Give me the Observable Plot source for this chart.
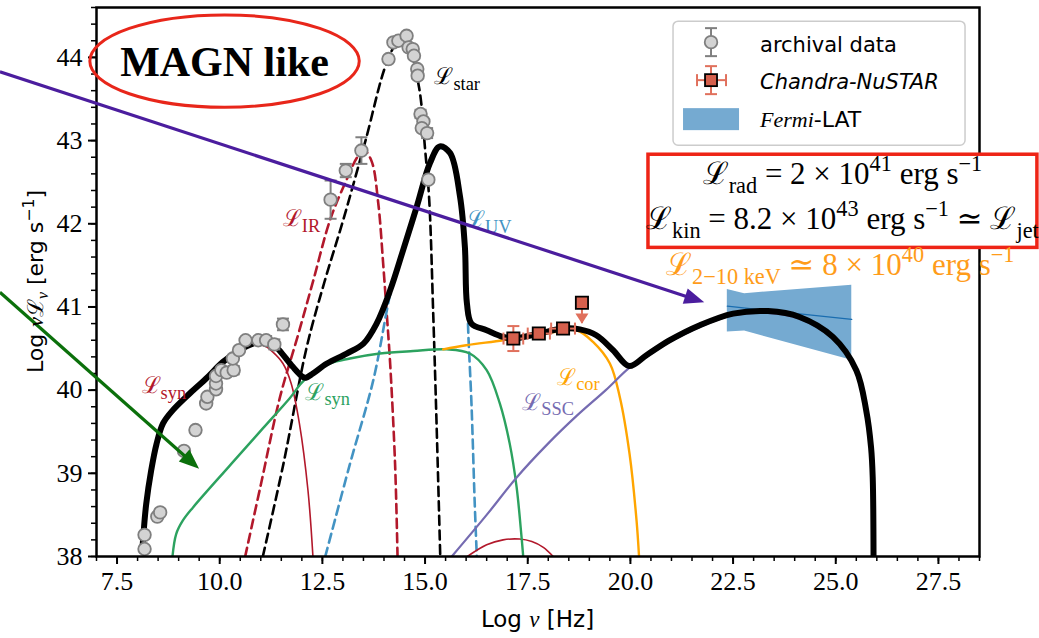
<!DOCTYPE html>
<html><head><meta charset="utf-8">
<script src="https://cdn.jsdelivr.net/npm/d3@7"></script>
<script src="https://cdn.jsdelivr.net/npm/@observablehq/plot@0.6"></script>
<style>
body{margin:0;background:#fff;}
#chart{width:1039px;height:638px;}
</style></head><body><div id="chart"></div>
<script>
// ---------------- data (log nu [Hz], log nuL_nu [erg/s]) ----------------
const xMajor = [7.5, 10, 12.5, 15, 17.5, 20, 22.5, 25, 27.5];
const xMinor = d3.range(7, 28.51, 0.5);
const yMajor = [38, 39, 40, 41, 42, 43, 44];
const yMinor = d3.range(38, 44.61, 0.2);

const archX = [8.17,8.17,8.48,8.55,9.13,9.41,9.67,9.70,9.91,9.91,9.91,10.04,10.17,10.34,10.32,10.47,10.63,10.94,11.13,11.33,11.54,12.70,13.07,13.45,14.11,14.23,14.35,14.55,14.60,14.70,14.73,14.81,14.82,14.89,14.96,14.92,15.05,15.08];
const archY = [38.09,38.26,38.48,38.53,39.27,39.52,39.84,39.92,40.01,40.08,40.17,40.24,40.21,40.24,40.38,40.48,40.60,40.60,40.60,40.55,40.79,42.29,42.64,42.88,43.98,44.18,44.20,44.26,44.12,44.10,44.02,43.86,43.78,43.32,43.23,43.15,43.09,42.53];
const archErr = [0,0,0,0,0,0,0,0,0,0,0,0,0,0.05,0,0,0,0,0.05,0.06,0.07,0.23,0.08,0.16,0,0,0,0,0,0,0,0,0,0.05,0,0,0.06,0];

const chX = [17.15, 17.77, 18.36];
const chY = [40.62, 40.68, 40.74];
const chXerr = [0.24, 0.27, 0.29];
const chYerr = [0.15, 0.05, 0.05];
const ulX = [18.82];
const ulY = [41.05];
const ulTip = [40.80];

const fermiX = [22.36, 22.78, 25.39];
const fermiHi = [41.21, 41.16, 41.26];
const fermiLo = [40.70, 40.71, 40.36];
const fermiLineX = [22.36, 25.39];
const fermiLineY = [41.01, 40.85];

const totalX = [8.12,8.15,8.21,8.33,8.46,8.62,8.86,9.27,9.67,10.08,10.48,10.81,11.1,11.3,11.45,11.78,12.02,12.1,12.27,12.61,13.09,13.5,13.82,14.15,14.47,14.8,15.12,15.36,15.61,15.85,15.97,16.02,16.13,16.5,16.9,17.15,17.77,18.36,18.77,19.17,19.58,19.97,20.39,20.96,21.69,22.5,23.35,24.12,24.93,25.5,25.74,25.86,25.9,25.92];
const totalY = [38.1,38.31,38.63,39.03,39.35,39.6,39.76,39.96,40.14,40.34,40.48,40.56,40.58,40.55,40.48,40.28,40.16,40.15,40.2,40.32,40.44,40.56,40.8,41.2,41.69,42.21,42.73,42.93,42.85,42.33,41.72,41.04,40.8,40.72,40.64,40.62,40.68,40.74,40.73,40.66,40.48,40.29,40.42,40.6,40.78,40.92,40.95,40.88,40.64,40.24,39.76,39.31,38.95,38.0];

const starX = [11.05,11.55,12.12,12.55,13.01,13.55,14.07,14.35,14.6,14.85,15.0,15.1,15.2,15.28,15.37];
const starY = [38.0,39.11,40.52,41.3,42.05,43.0,43.94,44.18,44.1,43.65,42.9,42.3,40.9,39.6,38.0];

const irX = [10.62,11.0,11.47,11.9,12.28,12.69,13.09,13.35,13.52,13.7,13.86,13.98,14.07,14.15,14.27,14.33];
const irY = [38.0,38.86,39.92,40.65,41.32,42.05,42.53,42.8,42.88,42.75,42.25,41.52,40.9,40.32,39.11,38.0];

const uvX = [12.57,13.17,13.74,14.07,14.15,14.47,14.8,15.12,15.36,15.61,15.85,15.97,16.03,16.06,16.13,16.21,16.26];
const uvY = [38.0,39.11,40.12,40.96,41.15,41.66,42.19,42.71,42.91,42.83,42.31,41.7,41.0,40.6,39.84,38.63,38.0];

const synRedX = [8.12,8.21,8.33,8.46,8.62,8.86,9.27,9.67,10.08,10.48,10.81,11.1,11.29,11.54,11.74,11.94,12.15,12.27];
const synRedY = [38.1,38.63,39.03,39.35,39.6,39.76,39.96,40.14,40.34,40.48,40.55,40.53,40.46,40.32,40.08,39.6,38.79,38.0];
const syn2X = [16.03,16.5,16.9,17.3,17.6,17.88,18.12];
const syn2Y = [38.0,38.14,38.2,38.21,38.18,38.11,38.0];

const synGreenX = [8.85,8.94,9.10,9.35,10.24,11.05,11.70,12.06,12.69,13.17,13.90,14.71,15.53,16.09,16.5,16.82,17.06,17.23,17.35,17.39];
const synGreenY = [38.0,38.27,38.43,38.59,39.09,39.54,39.9,40.12,40.32,40.38,40.44,40.47,40.49,40.44,40.24,39.84,39.36,38.83,38.23,38.0];

const corX = [15.44,16.0,16.9,17.5,18.2,18.69,19.09,19.5,19.74,19.98,20.15,20.21];
const corY = [40.49,40.54,40.6,40.65,40.7,40.72,40.58,40.32,39.92,39.23,38.43,38.0];

const sscX = [15.65,16.5,17.23,18.0,18.69,19.4,19.98,20.39,20.96,21.69,22.5,23.35,24.12,24.93,25.5,25.74,25.86,25.9,25.93];
const sscY = [38.0,38.5,38.95,39.36,39.69,40.0,40.27,40.4,40.58,40.76,40.9,40.93,40.86,40.62,40.22,39.74,39.29,38.93,38.0];

// curve labels
const labelSub = ["star", "IR", "UV", "syn", "syn", "cor", "SSC"];
const labelX = [15.24, 11.55, 16.01, 8.11, 12.10, 18.23, 17.38];
const labelY = [43.67, 41.97, 41.95, 39.96, 39.88, 40.06, 39.76];

// annotations (data units)
const magnCenter = [10.13, 43.95];
const magnRadius = [3.28, 0.555];
const boxX = [20.44, 29.91];
const boxY = [41.71, 42.83];
const boxLineY = [42.47, 41.93];
const orangeAt = [20.88, 41.38];
const legendAt = [21.05, 44.43];
const purpleArrow = [[4.66, 43.82], [21.81, 41.05]];
const greenArrow = [[4.66, 41.17], [9.51, 39.05]];

// ---------------- helpers ----------------
const pts = (xs, ys) => xs.map((x, i) => ({x, y: ys[i]}));
const curve = (xs, ys, opts) => Plot.line(pts(xs, ys), {x: "x", y: "y", curve: "catmull-rom", clip: true, ...opts});
const hCap = {draw(ctx, size) { const r = Math.sqrt(size / Math.PI); ctx.moveTo(-r, 0); ctx.lineTo(r, 0); }};
const vCap = {draw(ctx, size) { const r = Math.sqrt(size / Math.PI); ctx.moveTo(0, -r); ctx.lineTo(0, r); }};
const downTri = {draw(ctx, size) { const r = Math.sqrt(size / Math.PI); ctx.moveTo(-r, -r * 0.8); ctx.lineTo(r, -r * 0.8); ctx.lineTo(0, r * 0.8); ctx.closePath(); }};

const arch = archX.map((x, i) => ({x, y: archY[i], e: archErr[i]}));
const archE = arch.filter(d => d.e > 0);
const ch = chX.map((x, i) => ({x, y: chY[i], ex: chXerr[i], ey: chYerr[i]}));
const ul = ulX.map((x, i) => ({x, y: ulY[i], tip: ulTip[i]}));
const fermi = fermiX.map((x, i) => ({x, lo: fermiLo[i], hi: fermiHi[i]}));

const GRAY = "#7f7f7f", RED = "#d6604d", ERR = "#e0705c";
const SERIF = "'Liberation Serif', 'DejaVu Serif', serif";
const SANS = "'DejaVu Sans', sans-serif";

const plot = Plot.plot({
  width: 1039, height: 638,
  marginLeft: 96, marginRight: 60, marginTop: 7, marginBottom: 82,
  x: {domain: [7, 28.5]},
  y: {domain: [38, 44.6]},
  marks: [
    Plot.areaY(fermi, {x: "x", y1: "lo", y2: "hi", fill: "#75aad1"}),
    Plot.line(pts(fermiLineX, fermiLineY), {x: "x", y: "y", stroke: "#1a6db0", strokeWidth: 1.2}),
    curve(irX, irY, {stroke: "#b2182b", strokeWidth: 2.6, strokeDasharray: "9,5.5"}),
    curve(starX, starY, {stroke: "black", strokeWidth: 2.6, strokeDasharray: "9,5.5"}),
    curve(uvX, uvY, {stroke: "#4393c3", strokeWidth: 2.6, strokeDasharray: "9,5.5"}),
    curve(synRedX, synRedY, {stroke: "#b2182b", strokeWidth: 1.6}),
    curve(syn2X, syn2Y, {stroke: "#b2182b", strokeWidth: 1.6}),
    curve(synGreenX, synGreenY, {stroke: "#2ca25f", strokeWidth: 2.4}),
    curve(corX, corY, {stroke: "#ffa500", strokeWidth: 2.4}),
    curve(sscX, sscY, {stroke: "#756bb1", strokeWidth: 2.2}),
    curve(totalX, totalY, {stroke: "black", strokeWidth: 6, strokeLinejoin: "round"}),
    // archival data
    Plot.ruleX(archE, {x: "x", y1: d => d.y - d.e, y2: d => d.y + d.e, stroke: GRAY, strokeWidth: 2}),
    Plot.dot(archE, {x: "x", y: d => d.y - d.e, symbol: hCap, r: 6, stroke: GRAY, strokeWidth: 2, fill: "none"}),
    Plot.dot(archE, {x: "x", y: d => d.y + d.e, symbol: hCap, r: 6, stroke: GRAY, strokeWidth: 2, fill: "none"}),
    Plot.dot(arch, {x: "x", y: "y", r: 6.3, fill: "#d3d3d3", stroke: GRAY, strokeWidth: 1.8}),
    // Chandra-NuSTAR
    Plot.ruleY(ch, {y: "y", x1: d => d.x - d.ex, x2: d => d.x + d.ex, stroke: ERR, strokeWidth: 2}),
    Plot.ruleX(ch, {x: "x", y1: d => d.y - d.ey, y2: d => d.y + d.ey, stroke: ERR, strokeWidth: 2}),
    Plot.dot(ch, {x: d => d.x - d.ex, y: "y", symbol: vCap, r: 6, stroke: ERR, strokeWidth: 2}),
    Plot.dot(ch, {x: d => d.x + d.ex, y: "y", symbol: vCap, r: 6, stroke: ERR, strokeWidth: 2}),
    Plot.dot(ch, {x: "x", y: d => d.y - d.ey, symbol: hCap, r: 6, stroke: ERR, strokeWidth: 2}),
    Plot.dot(ch, {x: "x", y: d => d.y + d.ey, symbol: hCap, r: 6, stroke: ERR, strokeWidth: 2}),
    Plot.ruleX(ul, {x: "x", y1: "y", y2: "tip", stroke: ERR, strokeWidth: 2}),
    Plot.dot(ul, {x: "x", y: d => d.tip + 0.06, symbol: downTri, r: 6.5, fill: ERR, stroke: "none"}),
    Plot.dot(ch, {x: "x", y: "y", symbol: "square", r: 6.9, fill: RED, stroke: "black", strokeWidth: 1.8}),
    Plot.dot(ul, {x: "x", y: "y", symbol: "square", r: 6.9, fill: RED, stroke: "black", strokeWidth: 1.8}),
    // frame + axes
    Plot.frame({stroke: "black", strokeWidth: 2.5}),
    Plot.axisX({ticks: xMinor, tickSize: 5, tickFormat: () => "", strokeWidth: 1.5, label: null}),
    Plot.axisY({ticks: yMinor, tickSize: 5, tickFormat: () => "", strokeWidth: 1.5, label: null}),
    Plot.axisX({ticks: xMajor, tickSize: 8, tickPadding: 7, tickFormat: d => d.toFixed(1), strokeWidth: 2, label: null,
      fontFamily: SERIF, fontSize: 26, fill: "black"}),
    Plot.axisY({ticks: yMajor, tickSize: 8, tickPadding: 6, tickFormat: d => String(d), strokeWidth: 2, label: null,
      fontFamily: SERIF, fontSize: 26, fill: "black"})
  ]
});
document.getElementById("chart").append(plot);

// ---------------- annotations with the plot's own scales ----------------
const sx = plot.scale("x"), sy = plot.scale("y");
const X = v => sx.apply(v), Y = v => sy.apply(v);
const svg = d3.select(plot);
svg.style("overflow", "visible").style("background", "white");
const ann = svg.append("g").attr("text-anchor", "start");
const xr = sx.range, yr = sy.range;

function rich(parent, x, y, segs, o = {}) {
  const size = o.size || 24;
  const t = parent.append("text").attr("x", x).attr("y", y)
    .attr("font-family", o.family || SERIF).attr("font-size", size)
    .attr("fill", o.fill || "black").attr("text-anchor", o.anchor || "start");
  if (o.transform) t.attr("transform", o.transform);
  let cur = 0;
  for (const s of segs) {
    const shift = s.m === "sub" ? size * (s.d || 0.3) : s.m === "sup" ? -size * 0.42 : 0;
    const ts = t.append("tspan").attr("dy", shift - cur).text(s.t);
    if (s.m) ts.attr("font-size", size * (s.k || 0.72));
    if (s.i) ts.attr("font-style", "italic");
    if (s.f) ts.attr("font-family", s.f);
    cur = shift;
  }
  return t;
}

function arrow(g, a, b, color, w, hl, hw) {
  const x0 = X(a[0]), y0 = Y(a[1]), x1 = X(b[0]), y1 = Y(b[1]);
  const dx = x1 - x0, dy = y1 - y0, L = Math.hypot(dx, dy), ux = dx / L, uy = dy / L;
  const bx = x1 - ux * hl, by = y1 - uy * hl;
  g.append("line").attr("x1", x0).attr("y1", y0).attr("x2", bx + ux * 2).attr("y2", by + uy * 2)
    .attr("stroke", color).attr("stroke-width", w);
  g.append("path").attr("d", `M${x1},${y1}L${bx - uy * hw},${by + ux * hw}L${bx + uy * hw},${by - ux * hw}Z`).attr("fill", color);
}

// curve labels
const labelColors = ["black", "#b2182b", "#4393c3", "#b2182b", "#2ca25f", "#ffa500", "#756bb1"];
labelSub.forEach((s, i) => {
  rich(ann, X(labelX[i]), Y(labelY[i]), [{t: "ℒ"}, {t: s, m: "sub", d: 0.25, k: 0.8}], {size: 23, fill: labelColors[i]});
});

// arrows
arrow(ann, purpleArrow[0], purpleArrow[1], "#4b1d9e", 3.2, 20, 8);
arrow(ann, greenArrow[0], greenArrow[1], "#0b700b", 3.2, 20, 8);

// MAGN like
ann.append("ellipse").attr("cx", X(magnCenter[0])).attr("cy", Y(magnCenter[1]))
  .attr("rx", X(magnCenter[0] + magnRadius[0]) - X(magnCenter[0]))
  .attr("ry", Y(magnCenter[1] - magnRadius[1]) - Y(magnCenter[1]))
  .attr("fill", "none").attr("stroke", "#e8261a").attr("stroke-width", 3);
ann.append("text").attr("x", X(magnCenter[0])).attr("y", Y(magnCenter[1]) + 15)
  .attr("text-anchor", "middle").attr("font-family", SERIF).attr("font-weight", "bold")
  .attr("font-size", 42).text("MAGN like");

// luminosity box
ann.append("rect").attr("x", X(boxX[0])).attr("y", Y(boxY[1]))
  .attr("width", X(boxX[1]) - X(boxX[0])).attr("height", Y(boxY[0]) - Y(boxY[1]))
  .attr("fill", "white").attr("stroke", "#ee2416").attr("stroke-width", 3.5);
const bcx = (X(boxX[0]) + X(boxX[1])) / 2;
rich(ann, bcx, Y(boxLineY[0]), [{t: "ℒ"}, {t: "rad", m: "sub"}, {t: " = 2 × 10"}, {t: "41", m: "sup"}, {t: " erg s"}, {t: "−1", m: "sup"}], {size: 31, anchor: "middle"});
rich(ann, bcx, Y(boxLineY[1]), [{t: "ℒ"}, {t: "kin", m: "sub"}, {t: " = 8.2 × 10"}, {t: "43", m: "sup"}, {t: " erg s"}, {t: "−1", m: "sup"}, {t: " ≃ ℒ"}, {t: "jet", m: "sub"}], {size: 31, anchor: "middle"});
rich(ann, X(orangeAt[0]), Y(orangeAt[1]), [{t: "ℒ"}, {t: "2−10 keV", m: "sub"}, {t: " ≃ 8 × 10"}, {t: "40", m: "sup"}, {t: " erg s"}, {t: "−1", m: "sup"}], {size: 31, fill: "#ff9c1a"});

// legend
const lx = X(legendAt[0]), ly = Y(legendAt[1]);
const lg = ann.append("g").attr("transform", `translate(${lx},${ly})`).attr("text-anchor", "start");
lg.append("rect").attr("width", 292).attr("height", 124).attr("rx", 5)
  .attr("fill", "white").attr("fill-opacity", 0.85).attr("stroke", "#cccccc").attr("stroke-width", 1.5);
// row 1
lg.append("line").attr("x1", 38).attr("x2", 38).attr("y1", 7).attr("y2", 35).attr("stroke", GRAY).attr("stroke-width", 2);
lg.append("line").attr("x1", 32).attr("x2", 44).attr("y1", 7).attr("y2", 7).attr("stroke", GRAY).attr("stroke-width", 2);
lg.append("line").attr("x1", 32).attr("x2", 44).attr("y1", 35).attr("y2", 35).attr("stroke", GRAY).attr("stroke-width", 2);
lg.append("circle").attr("cx", 38).attr("cy", 21).attr("r", 6.3).attr("fill", "#d3d3d3").attr("stroke", GRAY).attr("stroke-width", 1.8);
lg.append("text").attr("x", 87).attr("y", 31).attr("text-anchor", "start").attr("font-family", SANS).attr("font-size", 21).text("archival data");
// row 2
const r2 = 59;
lg.append("line").attr("x1", 24).attr("x2", 53).attr("y1", r2).attr("y2", r2).attr("stroke", ERR).attr("stroke-width", 2);
lg.append("line").attr("x1", 38).attr("x2", 38).attr("y1", r2 - 14).attr("y2", r2 + 14).attr("stroke", ERR).attr("stroke-width", 2);
[[24, r2 - 6, 24, r2 + 6], [53, r2 - 6, 53, r2 + 6], [32, r2 - 14, 44, r2 - 14], [32, r2 + 14, 44, r2 + 14]].forEach(c =>
  lg.append("line").attr("x1", c[0]).attr("y1", c[1]).attr("x2", c[2]).attr("y2", c[3]).attr("stroke", ERR).attr("stroke-width", 2));
lg.append("rect").attr("x", 32).attr("y", r2 - 6).attr("width", 12).attr("height", 12).attr("fill", RED).attr("stroke", "black").attr("stroke-width", 1.8);
lg.append("text").attr("x", 87).attr("y", r2 + 9).attr("text-anchor", "start").attr("font-family", SANS).attr("font-style", "italic").attr("font-size", 21).text("Chandra-NuSTAR");
// row 3
lg.append("rect").attr("x", 10).attr("y", 87).attr("width", 56).attr("height", 22).attr("fill", "#75aad1");
rich(lg, 87, 106, [{t: "Fermi", i: true, f: SERIF}, {t: "-LAT", f: SANS}], {size: 22, family: SANS});

// axis labels
rich(ann, (xr[0] + xr[1]) / 2, 627, [{t: "Log "}, {t: "ν", i: true, f: SERIF}, {t: " [Hz]"}], {size: 23, family: SANS, anchor: "middle"});
rich(ann, 0, 0, [{t: "Log "}, {t: "ν", i: true, f: SERIF}, {t: "ℒ", f: SERIF}, {t: "ν", i: true, f: SERIF, m: "sub", d: 0.22}, {t: " [erg s"}, {t: "−1", m: "sup"}, {t: "]"}],
  {size: 22, family: SANS, anchor: "middle", transform: `translate(43,${(yr[0] + yr[1]) / 2}) rotate(-90)`});
</script>
</body></html>
